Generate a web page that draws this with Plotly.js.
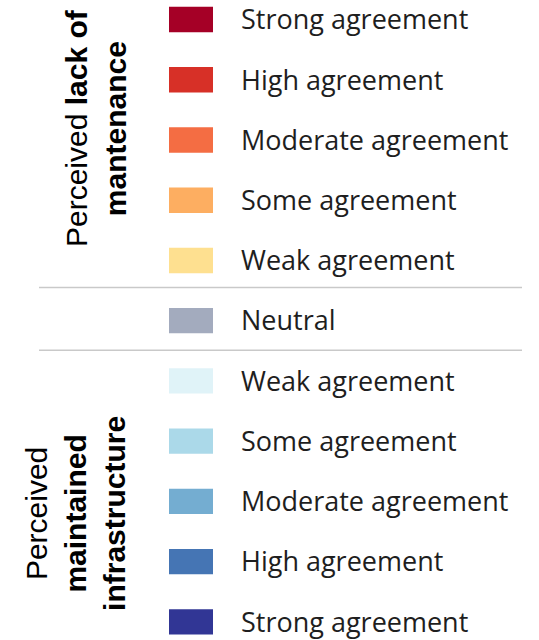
<!DOCTYPE html>
<html>
<head>
<meta charset="utf-8">
<script src="https://cdn.plot.ly/plotly-3.0.1.min.js"></script>
<style>
  html, body { margin: 0; padding: 0; background: #fff; }
  #legendChart { width: 539px; height: 640px; }
</style>
</head>
<body>
<div id="legendChart"></div>
<script>
// legend rows, top to bottom
const labels = [
  "Strong agreement", "High agreement", "Moderate agreement", "Some agreement", "Weak agreement",
  "Neutral",
  "Weak agreement", "Some agreement", "Moderate agreement", "High agreement", "Strong agreement"
];
const swatchColors = [
  "#a50026", "#d73027", "#f46d43", "#fdae61", "#fee090",
  "#a3abbe",
  "#e0f3f8", "#abd9e9", "#74add1", "#4575b4", "#313695"
];
const groupTitles = [
  "Perceived <b>lack of</b><br><b>mantenance</b>",
  "Perceived<br><b>maintained</b><br><b>infrastructure</b>"
];

const rows = labels.map((_, i) => i);

const swatchLeft = 169;
const swatchWidth = 44;
const textLeft = 241;
const textNudge = 0.05; // text sits a little lower than the swatch centre

const traces = [
  {
    type: "bar",
    orientation: "h",
    y: rows,
    x: rows.map(() => swatchWidth),
    base: swatchLeft,
    width: 0.42,
    marker: { color: swatchColors, line: { width: 0 } },
    hoverinfo: "skip",
    showlegend: false
  },
  {
    type: "scatter",
    mode: "text",
    y: rows.map(r => r + textNudge),
    x: rows.map(() => textLeft),
    text: labels,
    textposition: "middle right",
    cliponaxis: false,
    textfont: { family: "Open Sans, sans-serif", size: 27, color: "#1e1e1e" },
    hoverinfo: "skip",
    showlegend: false
  }
];

const layout = {
  width: 539,
  height: 640,
  margin: { l: 0, r: 0, t: 0, b: 0 },
  paper_bgcolor: "#ffffff",
  plot_bgcolor: "#ffffff",
  xaxis: { range: [0, 539], visible: false, fixedrange: true },
  yaxis: { range: [10.3, -0.324], visible: false, fixedrange: true },
  shapes: [4.45, 5.49].map(y => ({
    type: "line", xref: "x", yref: "y",
    x0: 39, x1: 522, y0: y, y1: y,
    line: { color: "#c9c9c9", width: 1.5 }
  })),
  annotations: [
    { text: groupTitles[0], x: 96, y: 0.8 },
    { text: groupTitles[1], x: 76, y: 0.197 }
  ].map(a => ({
    text: a.text,
    xref: "x", yref: "paper",
    x: a.x, y: a.y,
    xanchor: "center", yanchor: "middle",
    textangle: -90,
    showarrow: false,
    align: "center",
    font: { family: "Liberation Sans, Arial, sans-serif", size: 30, color: "#000" }
  }))
};

Plotly.newPlot("legendChart", traces, layout, { staticPlot: true, displayModeBar: false });
</script>
</body>
</html>
